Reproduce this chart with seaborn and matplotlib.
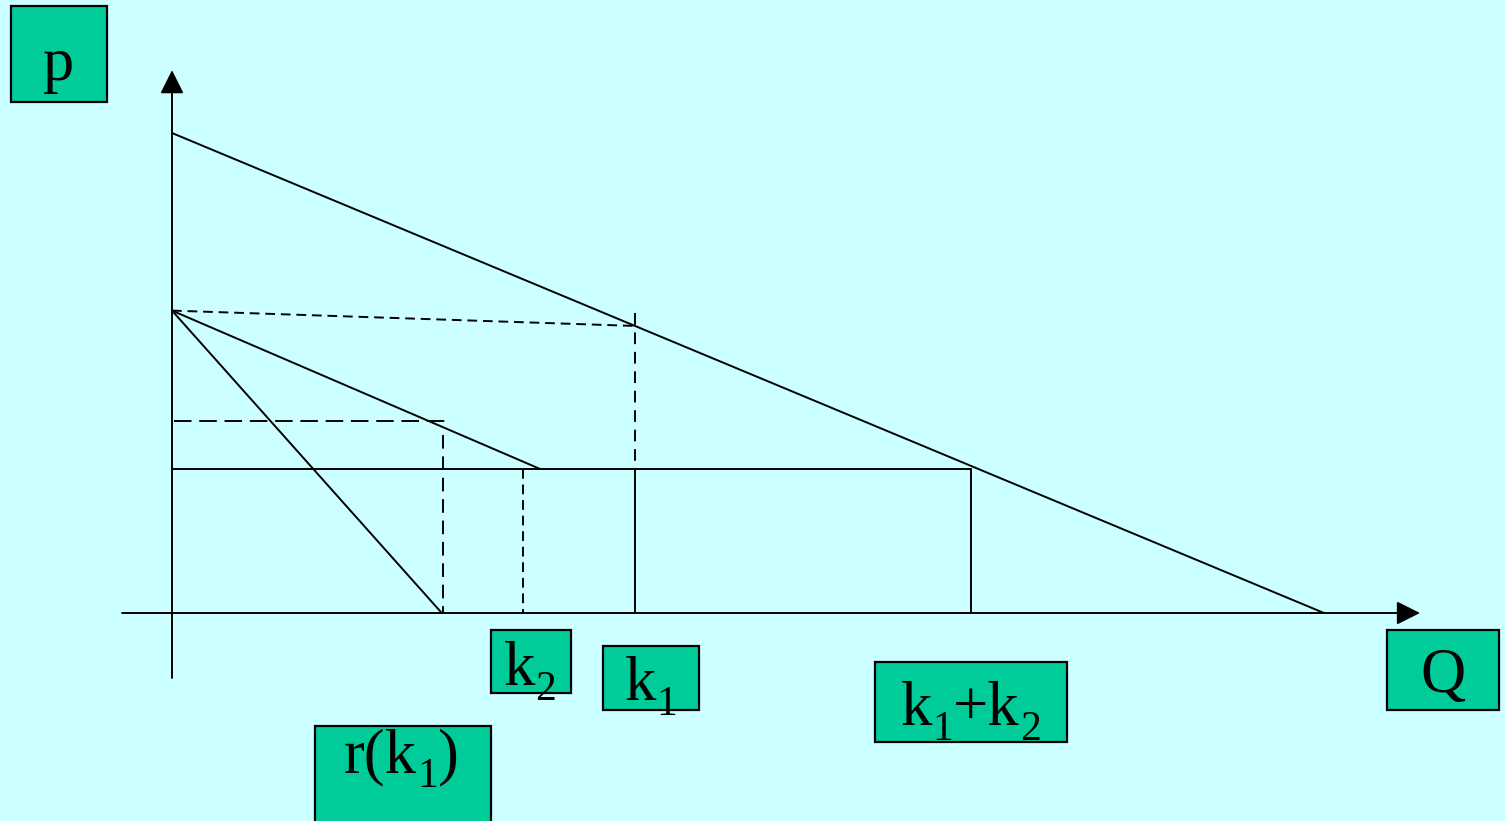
import numpy as np
import pandas as pd
import seaborn as sns
import matplotlib.pyplot as plt
from matplotlib.patches import Rectangle
from matplotlib.transforms import offset_copy

# diagram values (Q on x, p on y)
demand_q = [0, 24]
demand_p = [10, 0]
resid_q = [0, 7.67]          # residual demand down to capacity price
resid_p = [6.3, 3.0]
mr_q = [0, 5.62]             # marginal revenue of residual demand
mr_p = [6.3, 0]
cap_p = 3.0                  # price where total capacity binds
r_k1 = 5.65
p_r = 4.0
k2 = 7.31
k1 = 9.65
p_k1 = 5.98
k1k2 = 16.65

bg = "#CCFFFF"
box_col = "#00CC99"
lw = 1.4

sns.set_style("white")
plt.rcParams["font.family"] = ["Liberation Serif", "DejaVu Serif"]

W, H = 1505, 821
fig = plt.figure(figsize=(W / 100, H / 100), dpi=100)
fig.patch.set_facecolor(bg)
ax = fig.add_axes([0, 0, 1, 1])
ax.set_facecolor(bg)
# 48 px per unit, origin at pixel (172, 613)
ax.set_xlim(-172 / 48, (W - 172) / 48)
ax.set_ylim((613 - H) / 48, 613 / 48)
ax.axis("off")


def seg(q, p, dash=None):
    df = pd.DataFrame({"Q": q, "p": p})
    kw = {}
    if dash is not None:
        kw["linestyle"] = (0, dash)
    sns.lineplot(data=df, x="Q", y="p", ax=ax, color="black", lw=lw,
                 estimator=None, sort=False, **kw)


# axes with arrows
arrow = dict(arrowstyle="-|>", mutation_scale=36, color="black", lw=lw, shrinkA=0, shrinkB=0)
ax.annotate("", xy=(26.0, 0), xytext=(-1.04, 0), arrowprops=arrow)
ax.annotate("", xy=(0, 11.31), xytext=(0, -1.354), arrowprops=arrow)

seg(demand_q, demand_p)
seg(resid_q, resid_p)
seg(mr_q, mr_p)
seg([0, k1k2], [cap_p, cap_p])
seg([k1, k1], [cap_p, 0])
seg([k1k2, k1k2], [cap_p, 0])

seg([0, k1], [resid_p[0], p_k1], dash=(5, 3))
seg([k1, k1], [6.25, cap_p], dash=(6, 4))
seg([0.04, r_k1 + 0.04], [p_r, p_r], dash=(9, 4))
seg([r_k1, r_k1], [3.7, 0], dash=(7, 4))
seg([k2, k2], [cap_p, 0], dash=(5, 3))


def box(x0, y0, x1, y1):
    # pixel coordinates, top-left origin
    ax.add_patch(Rectangle((x0 / W, 1 - y1 / H), (x1 - x0) / W, (y1 - y0) / H,
                           transform=fig.transFigure, facecolor=box_col,
                           edgecolor="black", lw=1.6, clip_on=False))


renderer = fig.canvas.get_renderer()


def label(x, y, parts):
    # parts: list of (text, is_subscript); x, y = left/baseline in pixels
    cur = x
    for s, sub in parts:
        t = fig.text(cur / W, 1 - (y + (15 if sub else 0)) / H, s,
                     fontsize=30 if sub else 45, ha="left", va="baseline", color="black")
        bb = t.get_window_extent(renderer)
        cur += bb.width


box(11, 6, 107, 102)
label(43, 80, [("p", False)])
box(491, 630, 571, 693)
label(504, 685, [("k", False), ("2", True)])
box(603, 646, 699, 710)
label(625, 700, [("k", False), ("1", True)])
box(875, 662, 1067, 742)
label(901, 725, [("k", False), ("1", True), ("+k", False), ("2", True)])
box(1387, 630, 1499, 710)
label(1420, 692, [("Q", False)])
box(315, 726, 491, 830)
label(344, 772, [("r(k", False), ("1", True), (")", False)])

fig.savefig("out.png", dpi=100, facecolor=bg)
